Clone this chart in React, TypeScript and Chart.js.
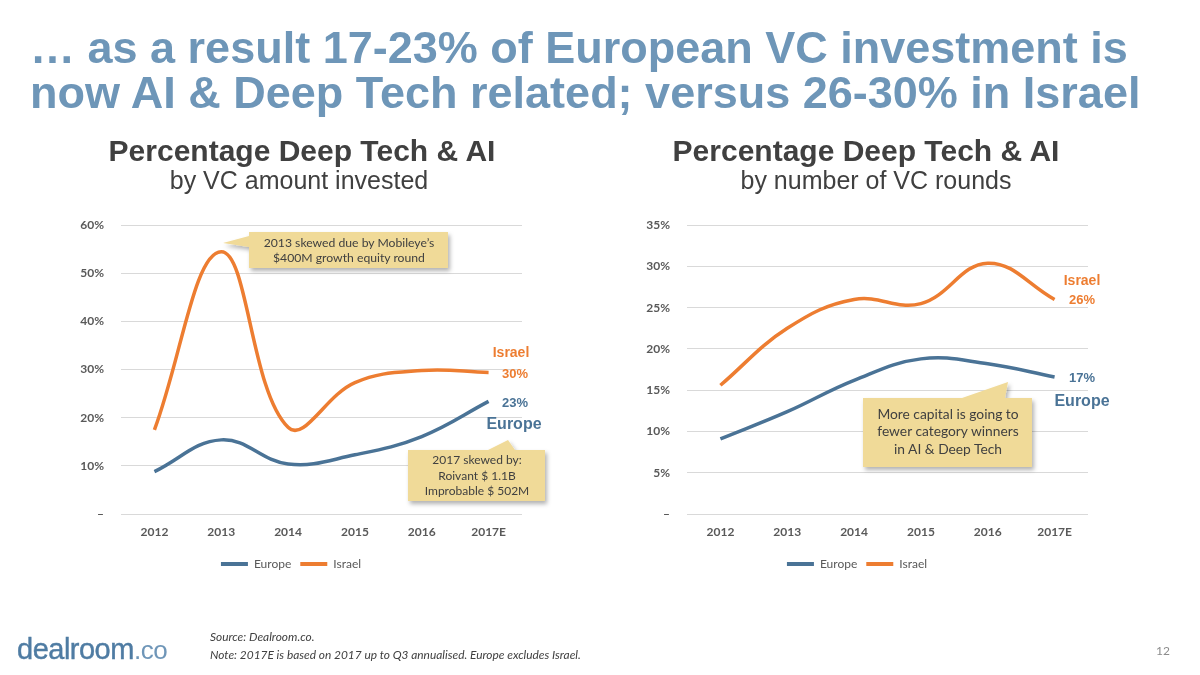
import React, { useEffect, useRef } from "react";
import { Chart, registerables } from "chart.js";

Chart.register(...registerables);

// ---- data ----
const categories = ["2012", "2013", "2014", "2015", "2016", "2017E"];
const amountEurope = [8.8, 15.4, 10.4, 12.3, 16.1, 23.4];
const amountIsrael = [17.5, 54.5, 18.0, 27.3, 29.8, 29.4];
const roundsEurope = [9.1, 12.4, 16.2, 18.8, 18.2, 16.6];
const roundsIsrael = [15.6, 22.5, 26.0, 25.5, 30.4, 26.0];
const amountAxisMax = 60;
const amountAxisStep = 10;
const roundsAxisMax = 35;
const roundsAxisStep = 5;
const seriesNames = ["Europe", "Israel"];

const EUROPE = "#4a7396";
const ISRAEL = "#ed7d31";
const TICK = "#595959";
const GRID = "#d9d9d9";

type LineProps = {
  europe: number[];
  israel: number[];
  max: number;
  step: number;
  left: number;
  top: number;
};

function LineChart({ europe, israel, max, step, left, top }: LineProps) {
  const ref = useRef<HTMLCanvasElement>(null);
  useEffect(() => {
    if (!ref.current) return;
    const chart = new Chart(ref.current, {
      type: "line",
      data: {
        labels: categories,
        datasets: [
          {
            label: seriesNames[0],
            data: europe,
            borderColor: EUROPE,
            backgroundColor: EUROPE,
            borderWidth: 3.5,
            pointRadius: 0,
            tension: 0.4,
            fill: false,
          },
          {
            label: seriesNames[1],
            data: israel,
            borderColor: ISRAEL,
            backgroundColor: ISRAEL,
            borderWidth: 3.5,
            pointRadius: 0,
            tension: 0.4,
            fill: false,
          },
        ],
      },
      options: {
        responsive: false,
        animation: false,
        layout: { padding: { top: 16, right: 28, left: 0, bottom: 0 } },
        plugins: {
          legend: {
            position: "bottom",
            labels: {
              boxWidth: 27,
              boxHeight: 4,
              padding: 9,
              color: TICK,
              font: { family: "Lato", size: 12 },
              generateLabels: (c: any) =>
                (Chart.defaults.plugins.legend.labels as any)
                  .generateLabels(c)
                  .map((l: any) => ({ ...l, lineWidth: 0 })),
            },
          },
          tooltip: { enabled: false },
        },
        scales: {
          x: {
            offset: true,
            grid: { display: false, drawTicks: false },
            border: { display: false },
            ticks: {
              padding: 11,
              color: TICK,
              font: { family: "Lato", size: 12, weight: "bold" },
            },
            afterFit: (s: any) => {
              s.height = 35;
            },
          },
          y: {
            min: 0,
            max,
            ticks: {
              stepSize: step,
              padding: 17,
              color: TICK,
              font: { family: "Lato", size: 12, weight: "bold" },
              callback: (v: any) => (Number(v) === 0 ? "–" : v + "%"),
            },
            grid: { color: GRID, drawTicks: false, lineWidth: 1 },
            border: { display: false },
            afterFit: (s: any) => {
              s.width = 61;
            },
          },
        },
      },
    } as any);
    return () => chart.destroy();
  }, []);
  return (
    <canvas
      ref={ref}
      width={490}
      height={379}
      style={{ position: "absolute", left, top, width: 490, height: 379 }}
    />
  );
}

const CALLOUT_FILL = "#f0da98";
const SANS = "'Liberation Sans', Arial, sans-serif";
const BODY = "Lato, 'Open Sans', sans-serif";

export default function App() {
  return (
    <div
      style={{
        position: "absolute",
        left: 0,
        top: 0,
        width: 1200,
        height: 675,
        background: "#ffffff",
        overflow: "hidden",
      }}
    >
      <LineChart
        europe={amountEurope}
        israel={amountIsrael}
        max={amountAxisMax}
        step={amountAxisStep}
        left={60}
        top={201}
      />
      <LineChart
        europe={roundsEurope}
        israel={roundsIsrael}
        max={roundsAxisMax}
        step={roundsAxisStep}
        left={626}
        top={201}
      />
      <svg
        width={1200}
        height={675}
        style={{ position: "absolute", left: 0, top: 0, pointerEvents: "none" }}
      >
        <defs>
          <filter id="sh" x="-20%" y="-30%" width="140%" height="160%">
            <feDropShadow dx="2" dy="3" stdDeviation="2" floodColor="#000" floodOpacity="0.3" />
          </filter>
        </defs>

        {/* main title */}
        <g fill="#6e96b8" fontFamily={SANS} fontWeight="bold" fontSize={45}>
          <text x={30} y={63}>… as a result 17-23% of European VC investment is</text>
          <text x={30} y={108}>now AI &amp; Deep Tech related; versus 26-30% in Israel</text>
        </g>

        {/* chart titles */}
        <g fill="#404040" fontFamily={SANS} textAnchor="middle">
          <text x={302} y={161} fontSize={30} fontWeight="bold">Percentage Deep Tech &amp; AI</text>
          <text x={299} y={189} fontSize={25}>by VC amount invested</text>
          <text x={866} y={161} fontSize={30} fontWeight="bold">Percentage Deep Tech &amp; AI</text>
          <text x={876} y={189} fontSize={25}>by number of VC rounds</text>
        </g>

        {/* callouts */}
        <g filter="url(#sh)" fill={CALLOUT_FILL}>
          <polygon points="249,232 448,232 448,268 249,268 249,247 223,243 249,236" />
          <polygon points="408,450 488,450 508,440 515,450 545,450 545,501 408,501" />
          <polygon points="863,398 962,398 1008,382 1005,398 1032,398 1032,467 863,467" />
        </g>
        <g fill="#404040" fontFamily={BODY} textAnchor="middle">
          <g fontSize={12.2}>
            <text x={349} y={247}>2013 skewed due by Mobileye’s</text>
            <text x={349} y={262}>$400M growth equity round</text>
          </g>
          <g fontSize={12}>
            <text x={477} y={464}>2017 skewed by:</text>
            <text x={477} y={480}>Roivant $ 1.1B</text>
            <text x={477} y={495}>Improbable $ 502M</text>
          </g>
          <g fontSize={13.8}>
            <text x={948} y={419}>More capital is going to</text>
            <text x={948} y={436}>fewer category winners</text>
            <text x={948} y={454}>in AI &amp; Deep Tech</text>
          </g>
        </g>

        {/* series end labels */}
        <g fontFamily={SANS} fontWeight="bold" textAnchor="middle">
          <text x={511} y={357} fontSize={14} fill={ISRAEL}>Israel</text>
          <text x={515} y={378} fontSize={13} fill={ISRAEL}>30%</text>
          <text x={515} y={407} fontSize={13} fill={EUROPE}>23%</text>
          <text x={514} y={429} fontSize={16} fill={EUROPE}>Europe</text>
          <text x={1082} y={285} fontSize={14} fill={ISRAEL}>Israel</text>
          <text x={1082} y={304} fontSize={13} fill={ISRAEL}>26%</text>
          <text x={1082} y={382} fontSize={13} fill={EUROPE}>17%</text>
          <text x={1082} y={406} fontSize={16} fill={EUROPE}>Europe</text>
        </g>

        {/* footer */}
        <text x={17} y={659} fontFamily={SANS} fontSize={29} fill="#4f7ca3" letterSpacing={-0.5} stroke="#4f7ca3" strokeWidth={0.4}>
          dealroom<tspan fill="#6f96b8" stroke="none" fontSize={26}>.co</tspan>
        </text>
        <g fontFamily={BODY} fontStyle="italic" fontSize={11.9} fill="#404040">
          <text x={210} y={641}>Source: Dealroom.co.</text>
          <text x={210} y={659}>Note: 2017E is based on 2017 up to Q3 annualised. Europe excludes Israel.</text>
        </g>
        <text x={1163} y={655} fontFamily={BODY} fontSize={12} fill="#8c8c8c" textAnchor="middle">12</text>
      </svg>
    </div>
  );
}
